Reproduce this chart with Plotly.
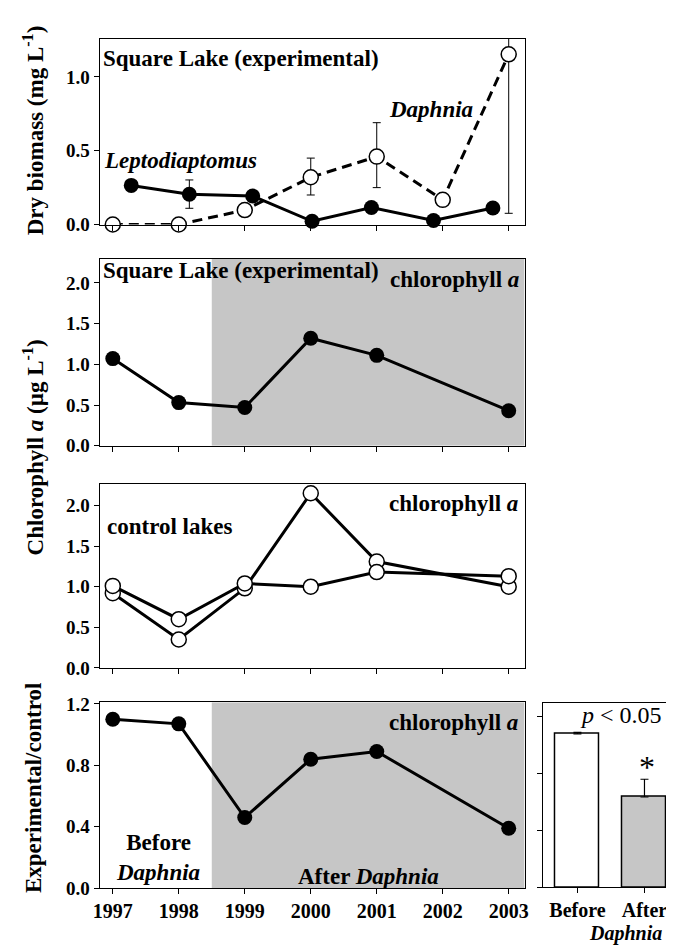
import plotly.graph_objects as go

# ---------------- data ----------------
years = [1997, 1998, 1999, 2000, 2001, 2002, 2003]

# Panel 1: zooplankton dry biomass (mg/L)
lepto_time = [1997.28, 1998.16, 1999.12, 2000.02, 2000.92, 2001.86, 2002.76]
lepto_val = [0.265, 0.205, 0.193, 0.022, 0.115, 0.027, 0.112]
lepto_err_up = [0, 0.097, 0, 0, 0, 0, 0]
lepto_err_dn = [0, 0.095, 0, 0, 0, 0, 0]

daph_time = [1997, 1998, 1999, 2000, 2001, 2002, 2003]
daph_val = [0.0, 0.0, 0.098, 0.32, 0.46, 0.167, 1.153]
daph_err_up = [0, 0, 0, 0.13, 0.23, 0, 0.115]
daph_err_dn = [0, 0, 0, 0.12, 0.21, 0, 1.077]

# Panel 2: Square Lake chlorophyll a (ug/L)
chl_years = [1997, 1998, 1999, 2000, 2001, 2003]
chl_exp = [1.07, 0.53, 0.47, 1.32, 1.11, 0.43]

# Panel 3: control lakes chlorophyll a (ug/L)
ctrl_a = [0.92, 0.35, 0.98, 2.15, 1.31, 1.00]
ctrl_b = [1.01, 0.60, 1.04, 1.00, 1.18, 1.13]

# Panel 4: experimental / control ratio
ratio = [1.10, 1.07, 0.46, 0.84, 0.89, 0.39]

# Bar panel
bar_labels = ["Before", "After"]
bar_vals = [1.08, 0.635]
bar_err = [0.01, 0.125]

treat_start = 1998.5

y1_ticks = [0.0, 0.5, 1.0]
y23_ticks = [0.0, 0.5, 1.0, 1.5, 2.0]
y4_ticks = [0.0, 0.4, 0.8, 1.2]

# ---------------- layout helpers ----------------
W, H = 674, 946
SERIF = "Liberation Serif"
GRAY = "#c6c6c6"


def xp(px):
    return px / W


def yp(py):
    return 1 - py / H


XR = [1996.8, 2003.24]
fig = go.Figure()

MS = 15
LW = 3

# Panel 1 -------------------------------------------------------------
fig.add_trace(go.Scatter(
    x=daph_time, y=daph_val, mode="lines+markers",
    line=dict(color="black", width=LW, dash="10px,6px"),
    marker=dict(symbol="circle", size=MS, color="white", line=dict(color="black", width=1.5)),
    error_y=dict(type="data", symmetric=False, array=daph_err_up, arrayminus=daph_err_dn,
                 color="black", thickness=1, width=4),
    xaxis="x", yaxis="y", cliponaxis=False, showlegend=False))
fig.add_trace(go.Scatter(
    x=lepto_time, y=lepto_val, mode="lines+markers",
    line=dict(color="black", width=LW),
    marker=dict(symbol="circle", size=MS, color="black"),
    error_y=dict(type="data", symmetric=False, array=lepto_err_up, arrayminus=lepto_err_dn,
                 color="black", thickness=1, width=4),
    xaxis="x", yaxis="y", cliponaxis=False, showlegend=False))

# Panel 2 -------------------------------------------------------------
fig.add_trace(go.Scatter(
    x=chl_years, y=chl_exp, mode="lines+markers",
    line=dict(color="black", width=LW),
    marker=dict(symbol="circle", size=MS, color="black"),
    xaxis="x2", yaxis="y2", cliponaxis=False, showlegend=False))

# Panel 3 -------------------------------------------------------------
for series in (ctrl_a, ctrl_b):
    fig.add_trace(go.Scatter(
        x=chl_years, y=series, mode="lines+markers",
        line=dict(color="black", width=LW),
        marker=dict(symbol="circle", size=MS, color="white", line=dict(color="black", width=1.5)),
        xaxis="x3", yaxis="y3", cliponaxis=False, showlegend=False))

# Panel 4 -------------------------------------------------------------
fig.add_trace(go.Scatter(
    x=chl_years, y=ratio, mode="lines+markers",
    line=dict(color="black", width=LW),
    marker=dict(symbol="circle", size=MS, color="black"),
    xaxis="x4", yaxis="y4", cliponaxis=False, showlegend=False))

# Bar panel -----------------------------------------------------------
fig.add_trace(go.Bar(
    x=[0, 1], y=bar_vals, width=0.66,
    marker=dict(color=["white", GRAY], line=dict(color="black", width=1.5)),
    error_y=dict(type="data", symmetric=False, array=bar_err, arrayminus=[0, 0],
                 color="black", thickness=1.2, width=4),
    xaxis="x5", yaxis="y5", showlegend=False))

# axes ----------------------------------------------------------------
tick_font = dict(family=SERIF, size=19, color="black", weight="bold")
common = dict(showline=True, linecolor="black", linewidth=1, mirror=True,
              ticks="outside", ticklen=5, tickwidth=1, tickcolor="black",
              showgrid=False, zeroline=False, tickfont=tick_font, fixedrange=True)

xdom = [xp(86), xp(518)]
panels = {
    "1": (22, 212, [0, 1.26], y1_ticks),
    "2": (247, 438, [0, 2.296], y23_ticks),
    "3": (477, 665, [0, 2.265], y23_ticks),
    "4": (700, 890, [0, 1.211], y4_ticks),
}
lay = {}
for k, (top, bot, yr, yt) in panels.items():
    xa = "xaxis" if k == "1" else "xaxis" + k
    ya = "yaxis" if k == "1" else "yaxis" + k
    yname = "y" if k == "1" else "y" + k
    xname = "x" if k == "1" else "x" + k
    lay[xa] = dict(common, domain=xdom, range=XR, tickvals=years,
                   ticktext=[str(y) for y in years], showticklabels=(k == "4"),
                   anchor=yname,
                   tickfont=dict(family=SERIF, size=20, color="black", weight="bold"))
    lay[ya] = dict(common, domain=[yp(bot), yp(top)], range=yr, tickvals=yt,
                   tickformat=".1f", anchor=xname)

lay["xaxis5"] = dict(common, domain=[xp(537), 1.0], range=[-0.51, 1.5],
                     tickvals=[0, 1], ticktext=bar_labels, anchor="y5",
                     tickfont=dict(family=SERIF, size=20, color="black", weight="bold"))
lay["yaxis5"] = dict(common, domain=[yp(889), yp(700.5)], range=[0, 1.299],
                     tickvals=y4_ticks, showticklabels=False, anchor="x5")

# shading (after Daphnia)
shapes = []
for k, yr in (("2", panels["2"][2]), ("4", panels["4"][2])):
    shapes.append(dict(type="rect", xref="x" + k, yref="y" + k,
                       x0=treat_start, x1=XR[1], y0=yr[0], y1=yr[1],
                       fillcolor=GRAY, line=dict(width=0), layer="below"))

lab_font = dict(family=SERIF, size=23, color="black", weight="bold")


def ann(text, x, y, xanchor="center", font=None, angle=0, yanchor="middle"):
    return dict(text=text, x=xp(x), y=yp(y), xref="paper", yref="paper",
                xanchor=xanchor, yanchor=yanchor, showarrow=False,
                font=font or lab_font, textangle=angle)


ytitle_font = dict(family=SERIF, size=23, color="black", weight="bold")
annotations = [
    ann("Square Lake (experimental)", 87, 42, "left"),
    ann("<i>Leptodiaptomus</i>", 88, 147, "left"),
    ann("<i>Daphnia</i>", 378, 94, "left"),
    ann("Square Lake (experimental)", 87, 259, "left"),
    ann("chlorophyll <i>a</i>", 514, 268, "right"),
    ann("chlorophyll <i>a</i>", 513, 497, "right"),
    ann("control lakes", 92, 520, "left"),
    ann("chlorophyll <i>a</i>", 513, 721, "right"),
    ann("Before<br><i>Daphnia</i>", 145, 859),
    ann("After <i>Daphnia</i>", 359, 878),
    ann("<i>p</i> < 0.05", 616, 713, font=dict(family=SERIF, size=24, color="black")),
    ann("*", 642, 766, font=dict(family=SERIF, size=32, color="black")),
    ann("<i>Daphnia</i>", 621, 923, yanchor="top",
        font=dict(family=SERIF, size=20, color="black", weight="bold")),
    ann("Dry biomass (mg L<sup>-1</sup>)", 19, 116, angle=-90, font=ytitle_font),
    ann("Chlorophyll <i>a</i> (µg L<sup>-1</sup>)", 19, 440, angle=-90, font=ytitle_font),
    ann("Experimental/control", 19, 788, angle=-90, font=ytitle_font),
]

fig.update_layout(
    width=W, height=H, margin=dict(l=0, r=0, t=0, b=0),
    paper_bgcolor="white", plot_bgcolor="white",
    shapes=shapes, annotations=annotations, bargap=0,
    **lay,
)

fig.write_html("out.html", config={"displayModeBar": False})
